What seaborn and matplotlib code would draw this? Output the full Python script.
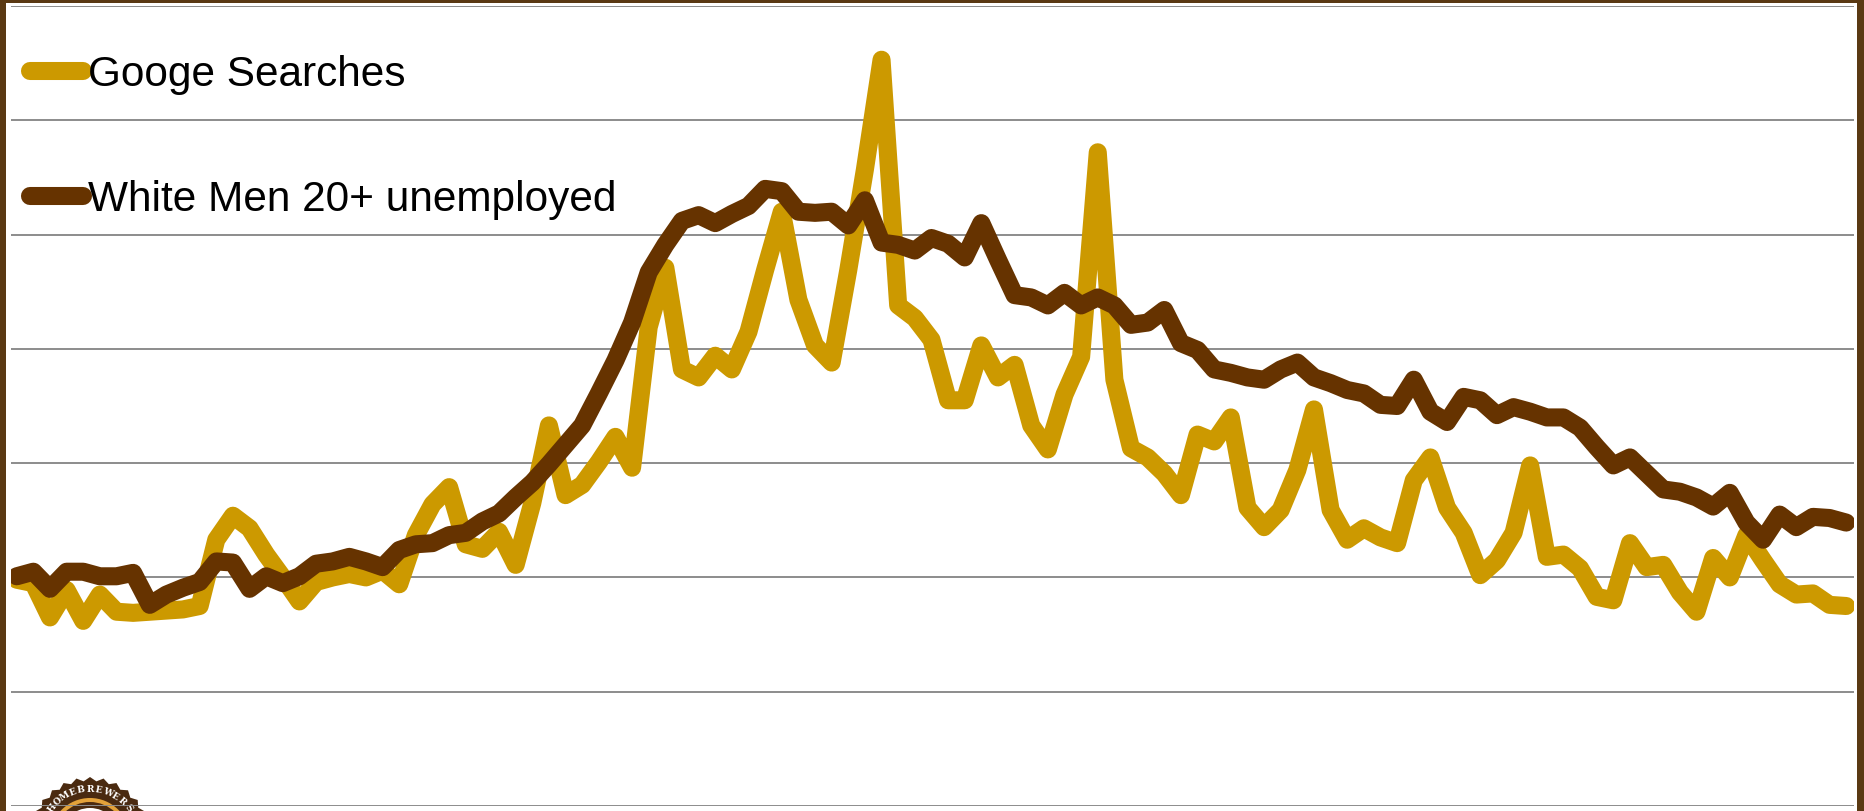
import numpy as np
import pandas as pd
import matplotlib
matplotlib.use("Agg")
import matplotlib.pyplot as plt
from matplotlib.lines import Line2D
from matplotlib.patches import Rectangle, Circle, Polygon
import seaborn as sns

# Monthly index values for the two series
searches = [19.8, 19.5, 16.5, 18.9, 16.2, 18.5, 17.0, 16.9, 17.0, 17.1,
            17.2, 17.5, 23.3, 25.4, 24.3, 22.0, 20.0, 17.9, 19.6, 20.0,
            20.3, 20.0, 20.6, 19.4, 23.7, 26.4, 27.9, 22.9, 22.5, 24.0,
            21.1, 26.5, 33.3, 27.2, 28.1, 30.1, 32.3, 29.6, 41.9, 47.1,
            38.2, 37.5, 39.4, 38.2, 41.5, 46.9, 52.0, 44.3, 40.3, 38.8,
            46.9, 55.7, 65.3, 43.8, 42.7, 40.8, 35.5, 35.5, 40.3, 37.5,
            38.6, 33.3, 31.2, 36.0, 39.3, 57.2, 37.3, 31.3, 30.5, 29.1,
            27.2, 32.5, 31.9, 34.0, 26.1, 24.4, 25.9, 29.4, 34.7, 25.9,
            23.3, 24.3, 23.5, 23.0, 28.5, 30.5, 26.1, 23.9, 20.2, 21.5,
            23.9, 29.8, 21.8, 22.0, 20.8, 18.3, 18.0, 23.0, 20.9, 21.1,
            18.7, 17.0, 21.7, 20.0, 23.7, 21.5, 19.4, 18.5, 18.6, 17.6,
            17.5]

unemployed = [20.1, 20.5, 19.0, 20.5, 20.5, 20.1, 20.1, 20.4, 17.6, 18.5,
              19.1, 19.6, 21.4, 21.3, 19.0, 20.1, 19.5, 20.1, 21.2, 21.4,
              21.8, 21.4, 20.9, 22.4, 22.9, 23.0, 23.7, 23.9, 24.9, 25.6,
              27.0, 28.3, 29.9, 31.6, 33.3, 36.1, 39.0, 42.3, 46.7, 49.1,
              51.2, 51.7, 51.0, 51.8, 52.5, 54.0, 53.8, 52.0, 51.9, 52.0,
              50.8, 53.0, 49.3, 49.1, 48.6, 49.7, 49.2, 48.0, 51.0, 47.8,
              44.7, 44.5, 43.8, 44.9, 43.8, 44.5, 43.8, 42.1, 42.3, 43.4,
              40.5, 39.9, 38.2, 37.9, 37.5, 37.3, 38.2, 38.8, 37.5, 37.0,
              36.4, 36.1, 35.1, 35.0, 37.3, 34.5, 33.6, 35.8, 35.5, 34.2,
              34.9, 34.5, 34.0, 34.0, 33.1, 31.4, 29.8, 30.5, 29.1, 27.7,
              27.5, 27.0, 26.2, 27.4, 24.8, 23.3, 25.5, 24.4, 25.3, 25.2,
              24.8]

series_names = ["Googe Searches", "White Men 20+ unemployed"]
series_colors = ["#CC9900", "#663300"]

months = np.arange(len(searches))
df = pd.DataFrame({
    "month": np.concatenate([months, months]),
    "value": searches + unemployed,
    "series": [series_names[0]] * len(searches) + [series_names[1]] * len(unemployed),
})

sns.set_theme(style="white")
plt.rcParams["font.family"] = ["Liberation Sans", "DejaVu Sans"]

W, H = 1864, 811
FRAME = "#5a3913"
LW = 13
fig = plt.figure(figsize=(W / 100, H / 100), dpi=100, facecolor=FRAME)

# Background layer in pixel units: white panel inside the wooden frame, plus badge
bg = fig.add_axes([0, 0, 1, 1], zorder=0)
bg.set_xlim(0, W)
bg.set_ylim(H, 0)
bg.axis("off")
bg.add_patch(Rectangle((6, 3), 1851, 820, facecolor="white", edgecolor="none"))

cx, cy = 90, 838
theta = np.linspace(0, 2 * np.pi, 57)[:-1]
rad = np.where(np.arange(len(theta)) % 2 == 0, 61, 57)
gear = np.column_stack([cx + rad * np.cos(theta), cy - rad * np.sin(theta)])
bg.add_patch(Polygon(gear, closed=True, facecolor="#4a2a10", edgecolor="none"))
bg.add_patch(Circle((cx, cy), 40, facecolor="#e3a23a", edgecolor="none"))
bg.add_patch(Circle((cx, cy), 36, facecolor="#4a2a10", edgecolor="none"))
bg.add_patch(Circle((cx, cy), 30, facecolor="white", edgecolor="none"))
badge_text = "HOMEBREWERS"
for k, ch in enumerate(badge_text):
    ang = np.deg2rad(142 - k * 10.4)
    bg.text(cx + 48.5 * np.cos(ang), cy - 48.5 * np.sin(ang), ch, color="white",
            fontsize=6.5, fontweight="bold", family="DejaVu Serif",
            rotation=np.rad2deg(ang) - 90, ha="center", va="center")

# Main plotting area
ax = fig.add_axes([11 / W, 5 / H, 1843 / W, 800 / H], zorder=1)
ax.set_facecolor("none")

sns.lineplot(data=df, x="month", y="value", hue="series",
             palette=dict(zip(series_names, series_colors)),
             lw=LW, solid_capstyle="round", solid_joinstyle="round",
             legend=False, ax=ax, zorder=3)

ax.set_xlim(-0.343, len(months) - 1 + 0.47)
ax.set_ylim(0, 70)
ax.set_yticks(np.arange(0, 71, 10))
ax.set_xticks([])
ax.yaxis.grid(True, color="#8c8c8c", lw=1.4)
ax.tick_params(left=False, labelleft=False, bottom=False, labelbottom=False)
ax.set_xlabel("")
ax.set_ylabel("")
for s in ax.spines.values():
    s.set_visible(False)

handles = [Line2D([], [], color=c, lw=LW, solid_capstyle="round") for c in series_colors]
leg = ax.legend(handles, series_names, loc="upper left", bbox_to_anchor=(0.0103, 0.939),
                frameon=False, fontsize=30.5, handlelength=1.25, handletextpad=0.12,
                labelspacing=2.0, borderpad=0, borderaxespad=0)
for t in leg.get_texts():
    t.set_color("black")

fig.savefig("out.png", dpi=100, facecolor=FRAME)
